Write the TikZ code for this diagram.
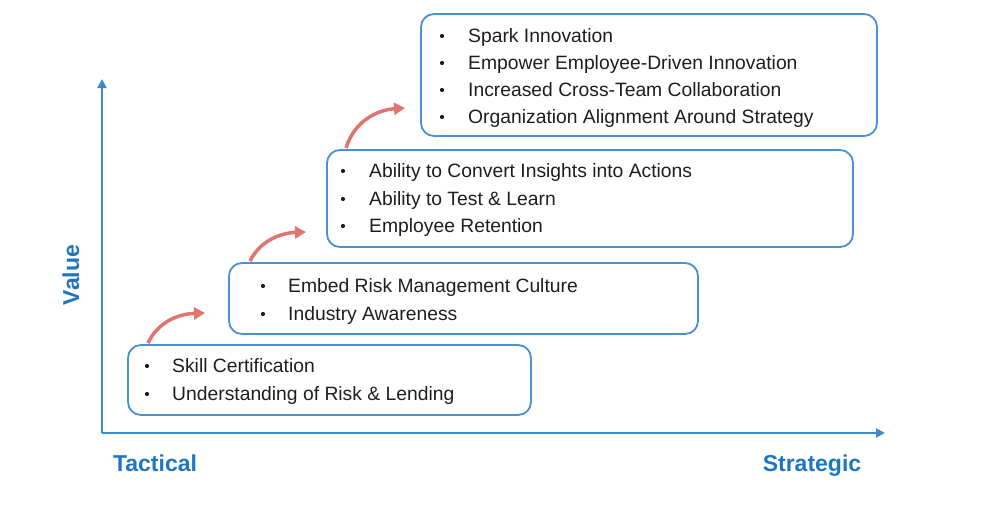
\documentclass[tikz,border=0pt]{standalone}
\usepackage{fontspec}
\setmainfont{Liberation Sans}
\usetikzlibrary{arrows.meta}
\definecolor{axisblue}{HTML}{3F8ACB}
\definecolor{boxblue}{HTML}{4A90D2}
\definecolor{labelblue}{HTML}{1F76C0}
\definecolor{arrowred}{HTML}{E07470}
\definecolor{txt}{HTML}{1E1E1E}
\tikzset{
  stepbox/.style={draw=boxblue, line width=1.8pt, rounded corners=13pt},
  item/.style={anchor=base west, inner sep=0pt, text=txt, font=\fontsize{19.3}{19.3}\selectfont},
  bul/.style={circle, fill=txt, inner sep=0pt, minimum size=4.2pt},
  axis/.style={draw=axisblue, line width=2pt, -{Triangle[length=9pt,width=9pt]}},
  axlabel/.style={text=labelblue, font=\fontsize{23}{23}\selectfont\bfseries, inner sep=0pt},
  uparrow/.style={draw=arrowred, line width=3.5pt, -{Triangle[length=11pt,width=12pt]}}
}
\begin{document}
\begin{tikzpicture}[x=1pt,y=-1pt]
\useasboundingbox (0,0) rectangle (1007,506);
% axes
\coordinate (O) at (102,433);
\coordinate (Ytop) at (102,79);
\coordinate (Xend) at (885,433);
\draw[axis] (O) -- (Ytop);
\draw[axis] (O) -- (Xend);
\node[axlabel, rotate=90] (val) at (71,275) {Value};
\node[axlabel, anchor=base] (tac) at (155,471) {Tactical};
\node[axlabel, anchor=base] (str) at (812,471) {Strategic};
% boxes
\draw[stepbox] (128,345) rectangle (531,415);
\coordinate (b1) at (148,343);
\draw[stepbox] (229,263) rectangle (698,334);
\coordinate (b2) at (250,261);
\draw[stepbox] (327,150) rectangle (853,247);
\coordinate (b3) at (346,148);
\draw[stepbox] (421,14) rectangle (877,136);
% box1 text
\node[bul] (p1a) at (147,366) {};
\node[item] (t1a) at (172,372.5) {Skill Certification};
\node[bul] (p1b) at (147,394) {};
\node[item] (t1b) at (172,400.5) {Understanding of Risk \& Lending};
% box2
\node[bul] (p2a) at (263,286) {};
\node[item] (t2a) at (288,292.5) {Embed Risk Management Culture};
\node[bul] (p2b) at (263,314) {};
\node[item] (t2b) at (288,320.5) {Industry Awareness};
% box3
\node[bul] (p3a) at (343,171) {};
\node[item] (t3a) at (369,177.5) {Ability to Convert Insights into Actions};
\node[bul] (p3b) at (343,199) {};
\node[item] (t3b) at (369,205.5) {Ability to Test \& Learn};
\node[bul] (p3c) at (343,226) {};
\node[item] (t3c) at (369,232.5) {Employee Retention};
% box4
\node[bul] (p4a) at (442,36) {};
\node[item] (t4a) at (468,42.5) {Spark Innovation};
\node[bul] (p4b) at (442,63) {};
\node[item] (t4b) at (468,69.5) {Empower Employee-Driven Innovation};
\node[bul] (p4c) at (442,90) {};
\node[item] (t4c) at (468,96.5) {Increased Cross-Team Collaboration};
\node[bul] (p4d) at (442,117) {};
\node[item] (t4d) at (468,123.5) {Organization Alignment Around Strategy};
% red arrows
\coordinate (e1) at (205,313);
\coordinate (e2) at (306,232);
\coordinate (e3) at (405,108);
\draw[uparrow] (b1) .. controls (158,322) and (178,314) .. (e1);
\draw[uparrow] (b2) .. controls (260,241) and (280,233) .. (e2);
\draw[uparrow] (b3) .. controls (354,122) and (376,110) .. (e3);
\end{tikzpicture}
\end{document}
